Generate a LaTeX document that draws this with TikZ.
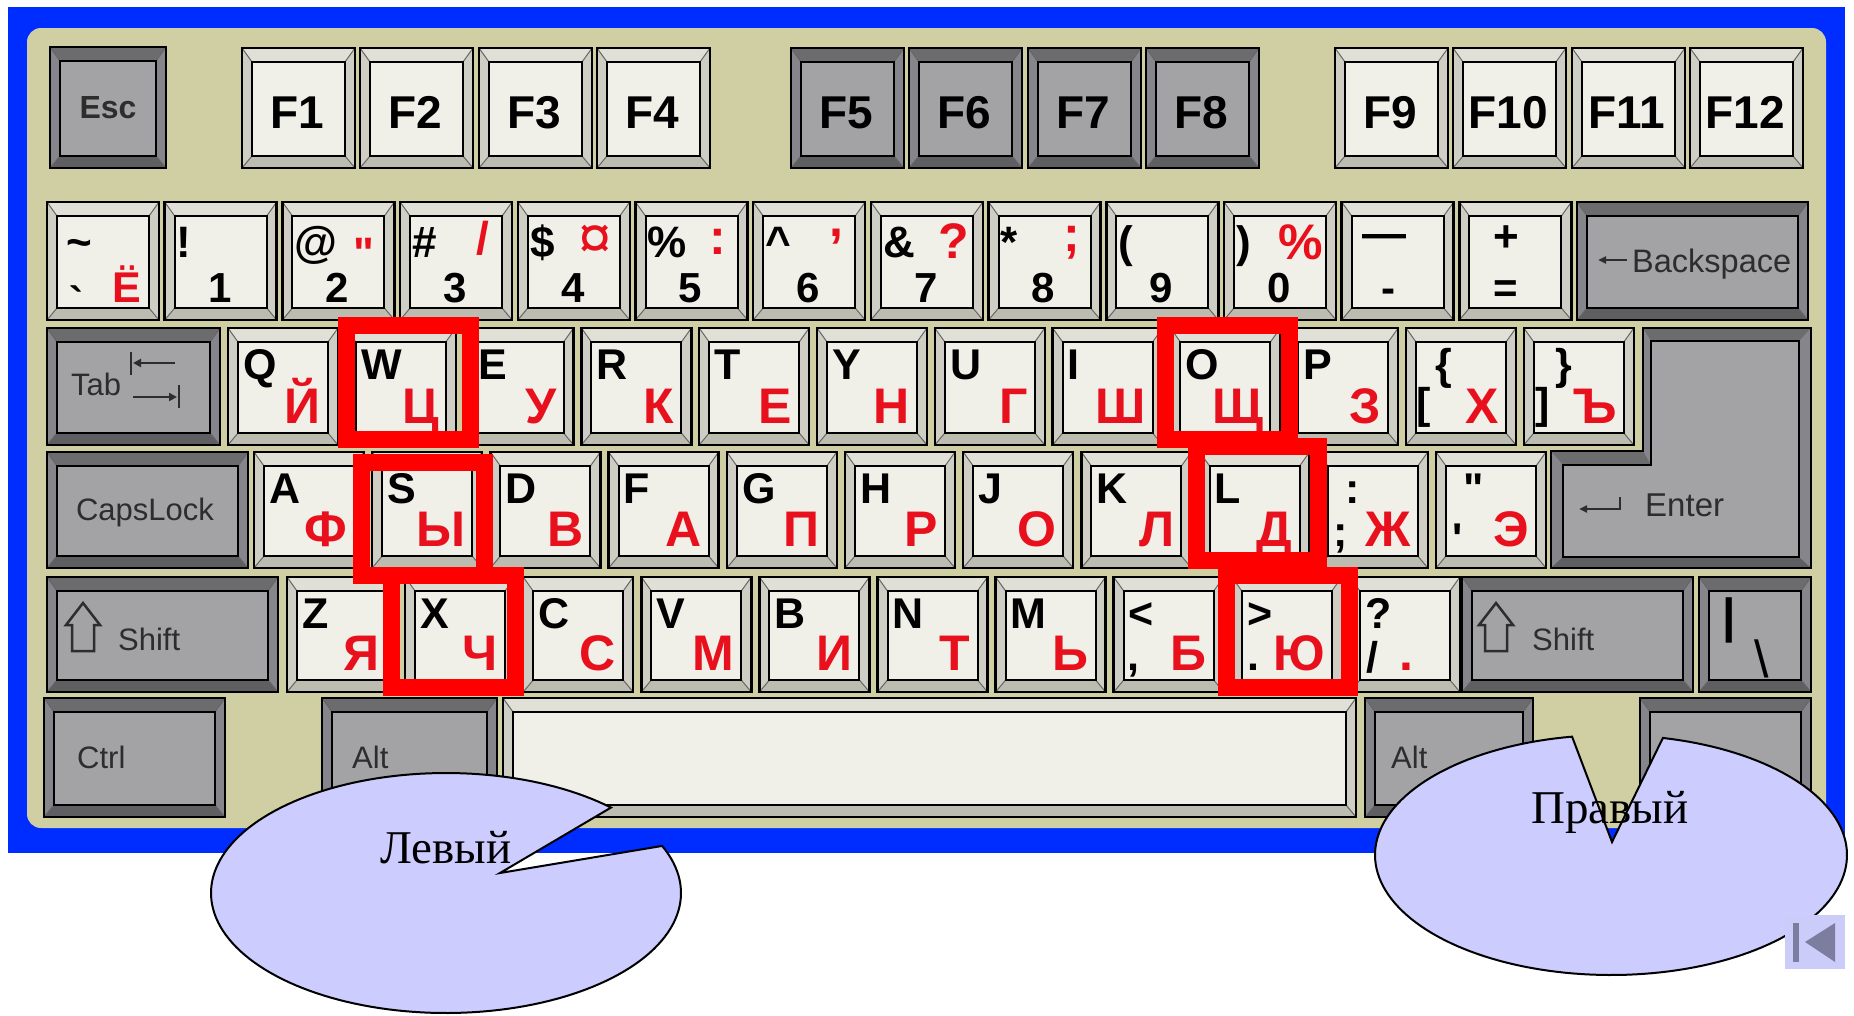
\documentclass[tikz,border=0pt]{standalone}
\usepackage{fontspec}
\setmainfont{Liberation Serif}
\newfontfamily\kfont{Liberation Sans}
\usetikzlibrary{arrows.meta}
\definecolor{bluef}{RGB}{0,45,255}
\definecolor{beige}{RGB}{207,207,163}
\definecolor{ltface}{RGB}{240,240,233}
\definecolor{lttop}{RGB}{224,224,214}
\definecolor{ltside}{RGB}{206,206,196}
\definecolor{ltbot}{RGB}{188,188,176}
\definecolor{dkface}{RGB}{163,163,165}
\definecolor{dktop}{RGB}{108,108,110}
\definecolor{dkside}{RGB}{135,133,140}
\definecolor{dkbot}{RGB}{95,95,97}
\definecolor{kred}{RGB}{232,16,28}
\definecolor{boxred}{RGB}{255,0,0}
\definecolor{piefill}{RGB}{204,204,255}
\definecolor{navbg}{RGB}{204,204,250}
\definecolor{navfg}{RGB}{125,125,160}
\definecolor{dktext}{RGB}{45,45,45}
\newcommand\kbkey[5]{%
  \fill[#5side] ({#1},{#2}) rectangle ({#3},{#4});
  \fill[#5top] ({#1},{#2}) -- ({#3},{#2}) -- ({#3-10},{#2+14}) -- ({#1+10},{#2+14}) -- cycle;
  \fill[#5bot] ({#1},{#4}) -- ({#3},{#4}) -- ({#3-10},{#4-12}) -- ({#1+10},{#4-12}) -- cycle;
  \draw[line width=1pt,black!60] ({#1},{#2}) -- ({#1+10},{#2+14}) ({#3},{#2}) -- ({#3-10},{#2+14}) ({#1},{#4}) -- ({#1+10},{#4-12}) ({#3},{#4}) -- ({#3-10},{#4-12});
  \draw[fill=#5face, line width=2pt] ({#1+10},{#2+14}) rectangle ({#3-10},{#4-12});
  \draw[line width=2.5pt] ({#1},{#2}) rectangle ({#3},{#4});
}
\newcommand\lk[6]{%
  \kbkey{#1}{#2}{#1+110}{#3}{lt}
  \node[blk,anchor=base west] (#6b) at ({#1+15},{#2+51}) {#4};
  \node[rdl,anchor=base east] (#6r) at ({#1+93},{#3-22}) {#5};
}
\newcommand\nk[4]{%
  \kbkey{#1}{202}{#1+112}{320}{lt}
  \node[sym,anchor=base west] (#4s) at ({#1+12},257) {#2};
  \node[dig,anchor=base] (#4d) at ({#1+55},302) {#3};
}
\begin{document}
\begin{tikzpicture}[x=1pt,y=-1pt,
  blk/.style={inner sep=0pt,text=black,font={\kfont\bfseries\fontsize{43pt}{43pt}\selectfont}},
  rdl/.style={inner sep=0pt,text=kred,font={\kfont\bfseries\fontsize{50pt}{50pt}\selectfont}},
  dig/.style={inner sep=0pt,text=black,font={\kfont\bfseries\fontsize{42pt}{42pt}\selectfont}},
  sym/.style={inner sep=0pt,text=black,font={\kfont\bfseries\fontsize{44pt}{44pt}\selectfont}},
  fk/.style={inner sep=0pt,text=black,font={\kfont\bfseries\fontsize{46pt}{46pt}\selectfont}},
  dkl/.style={inner sep=0pt,text=dktext,font={\kfont\fontsize{31pt}{31pt}\selectfont}},
  pielab/.style={inner sep=0pt,text=black,font={\fontsize{47pt}{47pt}\selectfont}},
  pie/.style={fill=piefill,draw=black,line width=2pt},
  hl/.style={draw=boxred,line width=17pt},
  glyph/.style={dktext,line width=2.5pt}]
\useasboundingbox (0,0) rectangle (1854,1015);
\fill[white] (0,0) rectangle (1854,1015);
\fill[bluef] (8,7) rectangle (1845,853);
\fill[beige,rounded corners=14pt] (27,28) rectangle (1826,828);

% ---- function row
\kbkey{50}{47}{166}{168}{dk}
\node[inner sep=0pt,text=dktext,font={\kfont\bfseries\fontsize{32pt}{32pt}\selectfont},anchor=base] (esc) at (108,118) {Esc};
\foreach \a/\n/\t in {242/1/lt,360/2/lt,479/3/lt,597/4/lt,791/5/dk,909/6/dk,1028/7/dk,1146/8/dk,1335/9/lt,1453/10/lt,1572/11/lt,1690/12/lt}{
  \kbkey{\a}{48}{\a+113}{168}{\t}
  \node[fk,anchor=base] (f\n) at ({\a+55},128) {F\n};
}

% ---- number row
\kbkey{47}{202}{159}{320}{lt}
\node[sym,anchor=base west] (n0s) at (66,257) {\textasciitilde};
\node[dig,anchor=base west] (n0d) at (69,316) {`};
\node[rdl,anchor=base east,font={\kfont\bfseries\fontsize{43pt}{43pt}\selectfont}] (n0r) at (141,302) {Ё};
\nk{164.7}{!}{1}{n1}
\nk{282.4}{@}{2}{n2}
\nk{400.1}{\#}{3}{n3}
\nk{517.8}{\$}{4}{n4}
\nk{635.5}{\%}{5}{n5}
\nk{753.2}{\textasciicircum}{6}{n6}
\nk{870.9}{\&}{7}{n7}
\nk{988.6}{*}{8}{n8}
\nk{1106.3}{(}{9}{n9}
\nk{1224}{)}{0}{n10}
\kbkey{1341.7}{202}{1453.7}{320}{lt}
\node[sym,anchor=base west] (n11s) at (1362,248) {—};
\node[dig,anchor=base] (n11d) at (1388,302) {-};
\kbkey{1459.4}{202}{1571.4}{320}{lt}
\node[sym,anchor=base] (n12s) at (1506,251) {+};
\node[dig,anchor=base] (n12d) at (1506,302) {=};
\node[rdl,anchor=base east,font={\kfont\bfseries\fontsize{44pt}{44pt}\selectfont}] (n2r) at (375,268) {"};
\node[rdl,anchor=base east,font={\kfont\bfseries\fontsize{46pt}{46pt}\selectfont}] (n3r) at (489,254) {/};
\node[rdl,anchor=base east,font={\kfont\fontsize{60pt}{60pt}\selectfont}] (n4r) at (612,258) {¤};
\node[rdl,anchor=base east] (n5r) at (726,254) {:};
\node[rdl,anchor=base east] (n6r) at (844,236) {,};
\node[rdl,anchor=base east] (n7r) at (969,258) {?};
\node[rdl,anchor=base east] (n8r) at (1080,251) {;};
\node[rdl,anchor=base east] (n10r) at (1323,259) {\%};
\kbkey{1577}{202}{1808}{320}{dk}
\draw[glyph,-{Triangle[length=8pt,width=7pt]}] (1627,260) -- (1598,260);
\node[dkl,anchor=base west,font={\kfont\fontsize{32.5pt}{32.5pt}\selectfont}] (bks) at (1632,272) {Backspace};

% ---- tab row
\kbkey{47}{328}{220}{445}{dk}
\node[dkl,anchor=base west] (tab) at (71,395) {Tab};
\draw[glyph] (131,352) -- (131,375);
\draw[glyph,-{Triangle[length=8pt,width=8pt]}] (175,363) -- (133,363);
\draw[glyph,-{Triangle[length=8pt,width=8pt]}] (133,397) -- (177,397);
\draw[glyph] (179,385) -- (179,408);
\lk{228}{328}{445}{Q}{Й}{kq}
\lk{345.8}{328}{445}{W}{Ц}{kw}
\lk{463.6}{328}{445}{E}{У}{ke}
\lk{581.4}{328}{445}{R}{К}{kr}
\lk{699.2}{328}{445}{T}{Е}{kt}
\lk{817}{328}{445}{Y}{Н}{ky}
\lk{934.8}{328}{445}{U}{Г}{ku}
\lk{1052.6}{328}{445}{I}{Ш}{ki}
\lk{1170.4}{328}{445}{O}{Щ}{ko}
\lk{1288.2}{328}{445}{P}{З}{kp}
\lk{1406}{328}{445}{\hspace*{14pt}\{}{Х}{klb}
\node[blk,anchor=base west] (klbx) at (1416,418) {[};
\lk{1523.8}{328}{445}{\hspace*{16pt}\}}{Ъ}{krb}
\node[blk,anchor=base west] (krbx) at (1535,418) {]};

% ---- enter
\fill[dkside] (1643,328) -- (1811,328) -- (1811,568) -- (1551,568) -- (1551,451) -- (1643,451) -- cycle;
\fill[dktop] (1643,328) -- (1811,328) -- (1799,341) -- (1651,341) -- cycle;
\fill[dktop] (1551,451) -- (1643,451) -- (1651,465) -- (1563,465) -- cycle;
\fill[dkbot] (1551,568) -- (1811,568) -- (1799,557) -- (1563,557) -- cycle;
\draw[fill=dkface,line width=2pt] (1651,341) -- (1799,341) -- (1799,557) -- (1563,557) -- (1563,465) -- (1651,465) -- cycle;
\draw[line width=2.5pt] (1643,328) -- (1811,328) -- (1811,568) -- (1551,568) -- (1551,451) -- (1643,451) -- cycle;
\draw[glyph,-{Triangle[length=8pt,width=7pt]}] (1620,497) -- (1620,509) -- (1579,509);
\node[dkl,anchor=base west,font={\kfont\fontsize{33pt}{33pt}\selectfont}] (ent) at (1645,516) {Enter};

% ---- caps row
\kbkey{47}{452}{248}{568}{dk}
\node[dkl,anchor=base] (caps) at (145,520) {CapsLock};
\lk{254}{452}{568}{A}{Ф}{ka}
\lk{372.2}{452}{568}{S}{Ы}{ks}
\lk{490.4}{452}{568}{D}{В}{kd}
\lk{608.6}{452}{568}{F}{А}{kf}
\lk{726.8}{452}{568}{G}{П}{kg}
\lk{845}{452}{568}{H}{Р}{kh}
\lk{963.2}{452}{568}{J}{О}{kj}
\lk{1081.4}{452}{568}{K}{Л}{kk}
\lk{1199.6}{452}{568}{L}{Д}{kl}
\lk{1317.8}{452}{568}{\hspace*{12pt}:}{Ж}{ksc}
\node[blk,anchor=base west] (kscx) at (1333,546) {;};
\lk{1436}{452}{568}{\hspace*{12pt}"}{Э}{kqu}
\node[blk,anchor=base west] (kqux) at (1452,553) {'};

% ---- shift row
\kbkey{47}{577}{278}{692}{dk}
\draw[glyph,line join=miter] (83,603) -- (100,625) -- (94,625) -- (94,651) -- (72,651) -- (72,625) -- (66,625) -- cycle;
\node[dkl,anchor=base west] (lsh) at (118,650) {Shift};
\lk{287}{577}{692}{Z}{Я}{kz}
\lk{405.1}{577}{692}{X}{Ч}{kx}
\lk{523.2}{577}{692}{C}{С}{kc}
\lk{641.3}{577}{692}{V}{М}{kv}
\lk{759.4}{577}{692}{B}{И}{kb}
\lk{877.5}{577}{692}{N}{Т}{kn}
\lk{995.6}{577}{692}{M}{Ь}{km}
\lk{1113.7}{577}{692}{<}{Б}{klt}
\node[blk,anchor=base west] (kltx) at (1127,670) {,};
\lk{1231.8}{577}{692}{>}{Ю}{kgt}
\node[blk,anchor=base west] (kgtx) at (1247,670) {.};
\lk{1349.9}{577}{692}{?}{}{kqm}
\node[blk,anchor=base west] (kqmx) at (1366,672) {/};
\node[rdl,anchor=base west] (kqmr) at (1399,670) {.};
\kbkey{1462}{577}{1693}{692}{dk}
\draw[glyph,line join=miter] (1496,603) -- (1513,625) -- (1507,625) -- (1507,651) -- (1485,651) -- (1485,625) -- (1479,625) -- cycle;
\node[dkl,anchor=base west] (rsh) at (1532,650) {Shift};
\kbkey{1699}{577}{1811}{692}{dk}
\node[sym,anchor=base west,font={\kfont\bfseries\fontsize{48pt}{48pt}\selectfont}] (bar) at (1722,632) {|};
\node[sym,anchor=base west,font={\kfont\fontsize{52pt}{52pt}\selectfont}] (bsl) at (1754,677) {\textbackslash};

% ---- bottom row
\kbkey{44}{698}{225}{817}{dk}
\node[dkl,anchor=base west] (ctrl) at (77,768) {Ctrl};
\kbkey{322}{698}{497}{817}{dk}
\node[dkl,anchor=base west] (lalt) at (352,768) {Alt};
\kbkey{503}{698}{1356}{817}{lt}
\kbkey{1365}{698}{1533}{817}{dk}
\node[dkl,anchor=base west] (ralt) at (1391,768) {Alt};
\kbkey{1640}{698}{1811}{817}{dk}

% ---- highlight boxes
\draw[hl] (346,325) rectangle (470,439);
\draw[hl] (361,462) rectangle (484,575);
\draw[hl] (391,575) rectangle (515,687);
\draw[hl] (1165,325) rectangle (1289,439);
\draw[hl] (1196,446) rectangle (1318,560);
\draw[hl] (1226,575) rectangle (1349,687);

% ---- pies
\draw[pie] (500,873) -- plot[domain=-23.1:314.6,samples=160] ({446+235*cos(\x)},{893+120*sin(\x)}) -- cycle;
\node[pielab,anchor=base] (lev) at (446,863) {Левый};
\draw[pie] (1612,842) -- plot[domain=-77.3:260.5,samples=160] ({1611+236*cos(\x)},{855+120*sin(\x)}) -- cycle;
\node[pielab,anchor=base] (prav) at (1610,823) {Правый};

% ---- nav button
\fill[navbg] (1785,915) rectangle (1845,969);
\fill[navfg] (1805,942) -- (1835,923) -- (1835,962) -- cycle;
\fill[navfg] (1793,923) rectangle (1799,962);
\end{tikzpicture}
\end{document}
